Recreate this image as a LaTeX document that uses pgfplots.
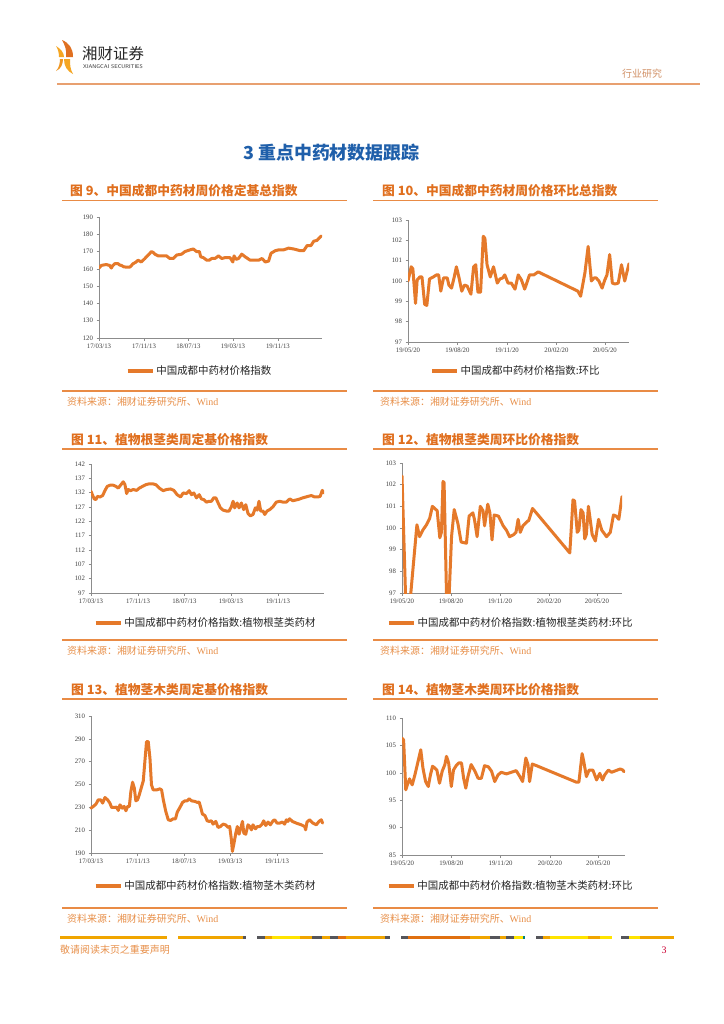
\documentclass[border=0pt]{standalone}
\usepackage{fontspec}
\setmainfont{Liberation Serif}
\newfontfamily\cjk{Noto Sans CJK SC}
\usepackage{pgfplots}
\pgfplotsset{compat=1.18}
\definecolor{lineor}{HTML}{E5792A}
\definecolor{titleor}{HTML}{E06F1E}
\definecolor{ruleor}{HTML}{E98B45}
\definecolor{srcor}{HTML}{E8904A}
\definecolor{secblue}{HTML}{1F5FAA}
\definecolor{axgray}{HTML}{8C8C8C}
\definecolor{ticktext}{HTML}{404040}
\definecolor{hdrline}{HTML}{E8A070}
\definecolor{logoA}{HTML}{E07020}
\definecolor{logoB}{HTML}{F5A623}
\definecolor{amber}{HTML}{F0A500}
\definecolor{dgray}{HTML}{55555A}
\definecolor{yel}{HTML}{FFE400}
\definecolor{dor}{HTML}{E07010}
\pgfplotsset{
  chartbase/.style={
    scale only axis, anchor=south west,
    axis x line*=bottom, axis y line*=left,
    axis line style={axgray, line width=0.8bp},
    tick style={axgray, line width=0.6bp},
    tick align=outside, major tick length=2.5bp,
    ticklabel style={font=\fontsize{6.8}{7.5}\selectfont, text=ticktext},
    enlargelimits=false,
    legend style={anchor=west, draw=none, fill=none, inner sep=0pt,
      font=\cjk\fontsize{10.5}{12}\selectfont, text=black!85},
    legend cell align=left,
    legend image code/.code={\draw[#1, line width=3.4bp, line cap=butt] (0bp,0bp) -- (25bp,0bp);},
  },
  orline/.style={color=lineor, line width=3bp, line join=round, line cap=round, mark=none},
  longx/.style={xtick={0,245,487,730,975}, xticklabels={17/03/13,17/11/13,18/07/13,19/03/13,19/11/13}},
  shortx/.style={xtick={0,92,184,276,366}, xticklabels={19/05/20,19/08/20,19/11/20,20/02/20,20/05/20}},
}
\begin{document}
\begin{tikzpicture}
\fill[white] (0,0) rectangle (724bp,-1024bp);
% header logo
\fill[logoA] (62bp,-40bp) .. controls (69bp,-43bp) and (73bp,-48bp) .. (73bp,-57bp) -- (66bp,-57bp) .. controls (67bp,-51bp) and (65bp,-45bp) .. (62bp,-40bp) -- cycle;
\fill[logoB] (56bp,-46bp) .. controls (61bp,-49bp) and (64bp,-53bp) .. (64bp,-57bp) -- (59bp,-57bp) .. controls (59bp,-53bp) and (58bp,-49bp) .. (56bp,-46bp) -- cycle;
\fill[logoB] (64bp,-59bp) .. controls (64bp,-66bp) and (67bp,-71bp) .. (73bp,-74bp) .. controls (70bp,-69bp) and (70bp,-64bp) .. (70bp,-59bp) -- cycle;
\fill[logoB!70!logoA] (56bp,-71bp) .. controls (59bp,-68bp) and (60bp,-63bp) .. (60bp,-59bp) -- (63bp,-59bp) .. controls (63bp,-64bp) and (61bp,-69bp) .. (56bp,-71bp) -- cycle;
\node[anchor=west, inner sep=0pt, font=\cjk\fontsize{15.5}{16}\selectfont, text=black!85] at (82bp,-54bp) {湘财证券};
\node[anchor=west, inner sep=0pt, font=\sffamily\fontsize{5.4}{6}\selectfont, text=black!80] at (83bp,-66.5bp) {XIANGCAI SECURITIES};
\node[anchor=west, inner sep=0pt, font=\cjk\fontsize{10}{11}\selectfont, text=hdrline!90!black] at (622bp,-74bp) {行业研究};
\draw[hdrline, line width=1.4bp] (57bp,-84bp) -- (700bp,-84bp);
% section title
\node[anchor=west, inner sep=0pt, font=\cjk\bfseries\fontsize{18}{20}\selectfont, text=secblue] at (243bp,-153bp) {3 重点中药材数据跟踪};
% chart titles and rules
\foreach \xx/\yy/\tt in {70/191/{图 9、中国成都中药材周价格定基总指数}, 382/191/{图 10、中国成都中药材周价格环比总指数}, 71/440/{图 11、植物根茎类周定基价格指数}, 382/440/{图 12、植物根茎类周环比价格指数}, 71/690/{图 13、植物茎木类周定基价格指数}, 382/690/{图 14、植物茎木类周环比价格指数}}{
  \node[anchor=west, inner sep=0pt, font=\cjk\bfseries\fontsize{12.8}{14}\selectfont, text=titleor] at (\xx bp,-\yy bp) {\tt};
}
\foreach \yy in {200.5,449,699}{
  \draw[ruleor, line width=1.2bp] (62bp,-\yy bp) -- (347bp,-\yy bp);
  \draw[ruleor, line width=1.2bp] (373bp,-\yy bp) -- (658bp,-\yy bp);
}
\foreach \yy/\ss in {391/402, 640/650.5, 908/918.5}{
  \draw[ruleor, line width=1.2bp] (62bp,-\yy bp) -- (347bp,-\yy bp);
  \draw[ruleor, line width=1.2bp] (373bp,-\yy bp) -- (658bp,-\yy bp);
  \node[anchor=west, inner sep=0pt, font=\cjk\fontsize{10}{12}\selectfont, text=srcor] at (67bp,-\ss bp) {资料来源：湘财证券研究所、{\rmfamily Wind}};
  \node[anchor=west, inner sep=0pt, font=\cjk\fontsize{10}{12}\selectfont, text=srcor] at (380bp,-\ss bp) {资料来源：湘财证券研究所、{\rmfamily Wind}};
}
% chart 9
\begin{axis}[chartbase, longx, at={(99bp,-338bp)}, width=223bp, height=121bp,
  xmin=0, xmax=1215, ymin=120, ymax=190, ytick={120,130,...,190},
  yticklabels={120,130,140,150,160,170,180,190},
  legend style={at={(axis description cs:0.12,-0.273)}}]
\addplot[orline] coordinates {(0,160.5)(13,162)(27,162.3)(40,162.5)(50,162.2)(58,162)(67,160.5)(76,162)(86,163)(104,163)(113,162.2)(122,162)(135,161.2)(149,161)(168,161)(186,163)(200,163.8)(213,165)(231,164)(250,166)(268,168)(286,170)(295,169.5)(304,168.5)(323,167.5)(345,167.5)(368,167.5)(386,166)(405,166)(423,168)(450,168.5)(468,170)(496,171)(514,171.5)(532,170)(547,170)(554,167)(569,166.5)(587,165)(601,165)(614,166)(632,166)(651,167.5)(669,166)(687,166.5)(714,166.5)(729,164)(736,167.5)(747,165.5)(760,166)(778,168.5)(796,167)(824,165)(842,165)(869,165)(888,166)(906,164)(924,164.5)(937,169)(960,170.5)(979,171)(1006,171)(1033,172)(1061,171.5)(1097,170.5)(1115,170.5)(1134,173.5)(1155,173.5)(1170,176)(1188,176.5)(1210,179)};
\addlegendentry{中国成都中药材价格指数}
\end{axis}
% chart 10
\begin{axis}[chartbase, shortx, at={(408bp,-342bp)}, width=221bp, height=122bp,
  xmin=0, xmax=411, ymin=97, ymax=103, ytick={97,...,103},
  yticklabels={97,98,99,100,101,102,103},
  legend style={at={(axis description cs:0.1,-0.238)}}]
\addplot[orline] coordinates {(0,100)(6,100.7)(9,100.6)(14,98.9)(17,100.05)(22,100.2)(26,100.2)(31,98.85)(35,98.8)(40,100.1)(47,100.2)(53,100.3)(57,100.3)(61,99.5)(66,100.15)(73,100.15)(76,99.8)(81,99.65)(86,100.2)(90,100.7)(95,100.15)(100,99.5)(105,99.8)(110,99.75)(117,99.35)(122,100.7)(126,100.8)(130,99.45)(135,99.45)(140,102.2)(143,102.1)(147,100.8)(153,100.2)(159,100.7)(166,99.9)(171,100.1)(176,100.15)(180,100.3)(186,99.9)(192,99.9)(199,99.6)(205,100.3)(211,100.05)(217,99.6)(226,100.3)(234,100.3)(242,100.45)(316,99.5)(321,99.25)(329,100.4)(335,101.7)(341,100)(346,100.15)(350,100.15)(355,100)(361,99.65)(366,100.05)(370,100.3)(375,101.3)(380,99.9)(385,99.85)(391,99.9)(397,100.8)(403,100)(411,100.85)};
\addlegendentry{中国成都中药材价格指数:环比}
\end{axis}
% chart 11
\begin{axis}[chartbase, longx, at={(91bp,-593bp)}, width=233bp, height=129bp,
  xmin=0, xmax=1215, ymin=97, ymax=142, ytick={97,102,...,142},
  yticklabels={97,102,107,112,117,122,127,132,137,142},
  legend style={at={(axis description cs:0.012,-0.233)}}]
\addplot[orline] coordinates {(0,132.5)(7,131.3)(17,129.8)(26,129.6)(33,130.7)(47,130.5)(61,131)(73,132.8)(85,134.2)(99,134.6)(116,134.6)(130,134.2)(142,133.6)(154,134.6)(168,135.8)(177,134.8)(186,131.7)(194,133.1)(206,132.7)(220,133.1)(238,132.8)(252,133.6)(269,134.2)(286,134.8)(304,135.1)(321,135.1)(338,134.8)(356,133.6)(376,132.7)(394,133.1)(415,133.3)(432,132.8)(449,131.3)(467,130.5)(481,131.9)(498,131.7)(512,132.7)(524,131.3)(536,131.9)(550,130.2)(564,131.3)(576,129.8)(588,129.6)(602,128.7)(616,129)(628,129)(640,130.2)(651,130.2)(663,128.4)(675,126.7)(689,125.9)(706,125.6)(720,125.6)(732,127.1)(741,129)(749,126.7)(762,128.4)(772,126.7)(784,128.4)(796,126.1)(807,127.8)(819,124.7)(831,123.9)(845,124.4)(857,126.7)(867,125.9)(876,129)(885,125.6)(897,125.6)(906,124.4)(918,125.6)(932,126.1)(949,127.1)(966,128.7)(984,129)(1001,128.7)(1018,128.7)(1036,129.8)(1053,129.2)(1079,129.6)(1105,130.2)(1131,130.7)(1149,131)(1166,130.5)(1183,130.5)(1195,130.7)(1206,132.8)(1213,131.9)};
\addlegendentry{中国成都中药材价格指数:植物根茎类药材}
\end{axis}
% chart 12
\begin{axis}[chartbase, shortx, at={(402bp,-593bp)}, width=220bp, height=130bp,
  xmin=0, xmax=413, ymin=97, ymax=103, ytick={97,...,103},
  yticklabels={97,98,99,100,101,102,103}, clip=true,
  legend style={at={(axis description cs:-0.068,-0.231)}}]
\addplot[orline] coordinates {(0,102.4)(7,96.6)(14,96.3)(22,98.5)(28,100.15)(33,99.6)(39,99.9)(46,100.15)(52,100.45)(57,101.0)(66,100.8)(71,99.55)(74,99.8)(77,102.15)(79,102.1)(84,96.4)(88,96.6)(93,99.6)(98,100.85)(105,100.2)(111,99.35)(121,99.3)(126,100.55)(133,100.7)(136,100.4)(141,99.6)(147,101.0)(152,100.8)(155,100.1)(161,101.1)(165,100.7)(169,99.45)(173,100.6)(181,100.55)(190,100.1)(196,99.9)(202,99.6)(210,99.7)(214,99.8)(218,100.4)(222,99.8)(227,100.1)(235,100.3)(238,100.35)(245,100.9)(252,100.7)(315,98.85)(321,101.3)(324,101.25)(329,99.8)(332,99.9)(336,100.85)(340,100.7)(343,99.5)(346,99.7)(350,101.0)(357,99.7)(363,99.4)(369,100.4)(375,99.9)(384,99.6)(391,99.8)(397,100.6)(402,100.55)(407,100.4)(413,101.45)};
\addlegendentry{中国成都中药材价格指数:植物根茎类药材:环比}
\end{axis}
% chart 13
\begin{axis}[chartbase, longx, at={(91bp,-853bp)}, width=232bp, height=137bp,
  xmin=0, xmax=1216, ymin=190, ymax=310, ytick={190,210,...,310},
  yticklabels={190,210,230,250,270,290,310}, clip=false,
  legend style={at={(axis description cs:0.012,-0.241)}}]
\addplot[orline] coordinates {(0,229.3)(12,230.8)(26,232.8)(38,236.6)(51,236.6)(61,233.7)(73,238.6)(87,236.6)(99,233.7)(108,229.9)(122,229.9)(134,230.2)(143,227.3)(152,232.2)(164,229.3)(174,230.8)(183,227)(192,230.8)(201,230.8)(209,243.9)(218,252)(227,246.8)(235,235.7)(244,236.6)(253,241)(262,246.2)(274,253.2)(283,271.5)(291,287.6)(300,287.6)(309,273)(317,249.7)(326,245.3)(344,245.3)(361,246.2)(370,245.3)(379,236.6)(392,226.4)(405,219.1)(417,218.5)(431,220)(443,220)(452,225.8)(466,229.9)(480,234.3)(492,235.7)(504,235.7)(515,237.5)(527,235.7)(544,235.2)(558,234.3)(567,234.6)(576,229.3)(584,224.1)(597,222.9)(609,218.2)(619,217.7)(631,218.2)(640,215.3)(654,217.7)(666,212.4)(679,213.2)(692,215.3)(705,214.7)(719,212.4)(727,213.2)(736,201.6)(741,191.4)(748,197.2)(759,207.4)(767,213.2)(776,206.5)(785,211.8)(794,217.7)(801,207.4)(811,206.5)(823,214.7)(832,213.2)(841,210.3)(849,214.7)(862,211.2)(872,213.2)(884,213.2)(897,215.3)(905,218.2)(916,214.1)(928,217.1)(940,214.7)(954,218.2)(963,219.1)(975,216.2)(989,216.2)(1003,217.1)(1015,215.3)(1024,219.1)(1032,217.7)(1041,220)(1055,217.7)(1076,216.2)(1102,214.7)(1120,213.2)(1125,210.3)(1132,217.1)(1146,219.1)(1163,216.2)(1181,214.7)(1195,217.7)(1207,219.1)(1214,216.2)};
\addlegendentry{中国成都中药材价格指数:植物茎木类药材}
\end{axis}
% chart 14
\begin{axis}[chartbase, shortx, at={(402bp,-855bp)}, width=223bp, height=137bp,
  xmin=0, xmax=416, ymin=85, ymax=110, ytick={85,90,...,110},
  yticklabels={85,90,95,100,105,110},
  legend style={at={(axis description cs:-0.068,-0.226)}}]
\addplot[orline] coordinates {(0,106.3)(3,106)(7,96.9)(10,97.8)(14,98.9)(19,97.8)(24,99.6)(30,102.1)(35,104.2)(39,100.9)(44,98.4)(49,97.5)(53,99.6)(57,101.2)(61,100.9)(65,100.5)(70,98.1)(75,100.3)(80,101.5)(83,103.0)(87,101.8)(92,97.5)(96,100.5)(101,101.3)(106,101.8)(111,101.8)(115,99)(119,97.2)(123,99.3)(129,101.5)(136,100.3)(142,99)(148,99)(154,101.3)(161,101.1)(167,100.3)(173,98.4)(179,99.6)(185,100.1)(195,99.8)(204,100.1)(213,100.4)(220,99.3)(225,98.4)(231,102.7)(235,101.5)(238,98.4)(243,101.6)(251,101.3)(325,98.3)(330,98.3)(336,103.5)(339,102.1)(344,99.3)(349,100.5)(356,100.5)(363,98.7)(369,99.9)(374,98.7)(378,99.6)(385,100.5)(391,100.1)(399,100.4)(407,100.7)(412,100.5)(414,100.2)};
\addlegendentry{中国成都中药材价格指数:植物茎木类药材:环比}
\end{axis}
% footer
\foreach \a/\b/\c in {60/167/amber, 178/243/amber, 243/246/dgray, 257/265/dgray, 265/272/amber, 272/300/yel, 300/312/amber, 312/322/dgray, 322/330/amber, 330/338/dgray, 338/346/dor, 346/385/amber, 385/390/dgray, 401/408/dgray, 408/470/dor, 470/490/amber, 490/500/dgray, 500/506/amber, 506/514/dgray, 514/523/yel, 523/525/teal, 536/543/dgray, 543/550/amber, 550/588/yel, 588/600/amber, 600/612/yel, 621/629/dgray, 629/640/yel, 640/674/amber}{
  \fill[\c] (\a bp,-936bp) rectangle (\b bp,-938.6bp);
}
\node[anchor=west, inner sep=0pt, font=\cjk\fontsize{10}{12}\selectfont, text=srcor] at (60bp,-950bp) {敬请阅读末页之重要声明};
\node[anchor=center, inner sep=0pt, font=\fontsize{10}{12}\selectfont, text=purple!80!red] at (664bp,-950bp) {3};
\end{tikzpicture}
\end{document}
